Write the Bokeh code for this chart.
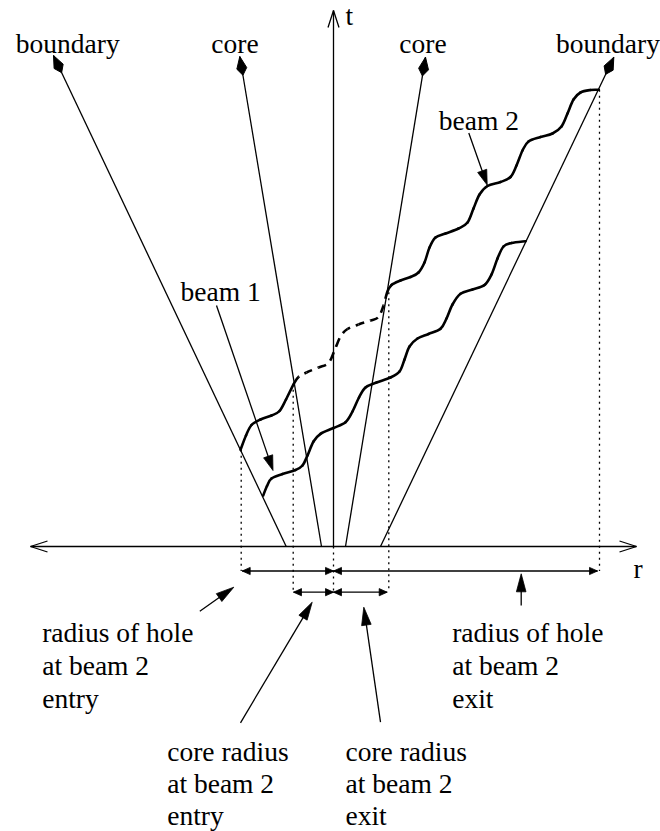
import math
from bokeh.plotting import figure
from bokeh.models import Range1d, ColumnDataSource
from bokeh.core.properties import value
from bokeh.embed import file_html
from bokeh.resources import INLINE

# ---------------- data (scene units, y grows downward) ----------------
r_axis_x = [30.0, 636.0]
r_axis_y = 546.0
t_axis_x = 333.0
t_axis_top = 10.0

worldline_names = ["boundary", "core", "core", "boundary"]
worldline_foot_x = [285.7, 321.0, 345.0, 380.0]
worldline_tip_x = [53.0, 239.3, 425.0, 613.3]
worldline_tip_y = [55.0, 56.0, 56.7, 56.7]
worldline_label_x = [67.3, 234.5, 422.5, 607.5]
worldline_label_y = [50.0, 50.0, 50.0, 50.0]

beam1_x = [262.7, 266.5, 271.0, 282.0, 295.0, 302.0, 307.0, 313.0, 320.0, 333.0,
           345.0, 352.0, 358.5, 365.0, 376.0, 390.0, 399.0, 404.0, 409.0, 417.0,
           428.0, 440.0, 446.0, 452.0, 460.0, 472.0, 484.0, 491.0, 497.0, 503.0,
           511.0, 525.0]
beam1_y = [495.0, 485.5, 478.0, 473.5, 469.5, 465.0, 455.0, 441.0, 433.3, 427.5,
           421.7, 411.0, 397.0, 387.0, 382.0, 377.0, 371.0, 359.0, 346.0, 338.0,
           333.5, 328.3, 318.0, 304.0, 293.3, 289.0, 284.5, 274.0, 258.0, 246.0,
           242.5, 240.7]

beam2_x = [240.0, 245.5, 251.0, 260.0, 271.0, 279.0, 285.5, 293.3, 298.0, 306.0,
           318.0, 328.0, 334.0, 340.0, 347.0, 358.0, 370.0, 378.0, 383.0, 386.7,
           391.0, 400.0, 410.0, 418.0, 424.0, 429.0, 435.0, 445.0, 458.0, 467.0,
           473.0, 479.0, 487.0, 500.0, 510.0, 516.0, 522.0, 528.0, 540.0, 552.0,
           561.0, 567.0, 573.0, 580.0, 590.0, 598.3]
beam2_y = [449.3, 435.0, 424.5, 419.0, 415.0, 410.5, 399.0, 383.3, 376.5, 372.0,
           367.0, 362.5, 350.0, 336.0, 328.5, 324.0, 320.0, 316.5, 305.0, 291.7,
           284.5, 280.0, 276.5, 272.0, 262.0, 247.0, 237.0, 233.0, 228.0, 222.0,
           208.0, 194.0, 185.5, 181.5, 176.5, 165.0, 150.0, 141.0, 136.5, 133.0,
           126.0, 113.0, 99.0, 92.0, 89.5, 89.3]
beam2_core_entry_idx = 7
beam2_core_exit_idx = 19

proj_x = [240.7, 292.7, 333.0, 388.3, 599.0]
proj_top = [449.3, 383.3, 546.0, 291.7, 89.3]
proj_bottom = [570.5, 591.7, 591.7, 591.7, 570.5]

dim_x0 = [241.7, 333.0, 293.0, 333.0]
dim_x1 = [333.0, 597.0, 333.0, 386.7]
dim_y = [570.5, 570.5, 591.7, 591.7]

pointer_x0 = [216.0, 468.3, 199.3, 240.0, 380.0, 520.7]
pointer_y0 = [305.0, 132.5, 610.7, 722.3, 721.7, 605.0]
pointer_x1 = [272.5, 486.7, 233.3, 311.7, 363.3, 520.7]
pointer_y1 = [470.0, 184.5, 586.7, 601.7, 606.7, 573.3]

beam_labels = ["beam 1", "beam 2"]
beam_label_x = [180.0, 438.3]
beam_label_y = [298.0, 126.7]

note_lines = ["radius of hole", "at beam 2", "entry",
              "radius of hole", "at beam 2", "exit",
              "core radius", "at beam 2", "entry",
              "core radius", "at beam 2", "exit"]
note_x = [41.7] * 3 + [451.7] * 3 + [166.7] * 3 + [345.0] * 3
note_y = [638.5, 671.5, 704.5, 638.5, 671.5, 704.5,
          758.0, 790.0, 822.0, 758.0, 790.0, 822.0]

axis_labels = ["t", "r"]
axis_label_x = [345.0, 633.0]
axis_label_y = [21.7, 575.0]

# ---------------- styles ----------------
W, H = 660, 831
FONT = value("Liberation Serif")
FS = "27.5px"
TEXT_SHIFT = -7.0   # renderer places the alphabetic baseline slightly low
THIN = 1.3
THICK = 2.6


def unit(tip, tail):
    dx, dy = tip[0] - tail[0], tip[1] - tail[1]
    d = math.hypot(dx, dy)
    return dx / d, dy / d


def tri_head(tip, tail, length, half):
    ux, uy = unit(tip, tail)
    nx, ny = -uy, ux
    bx, by = tip[0] - ux * length, tip[1] - uy * length
    return ([tip[0], bx + nx * half, bx - nx * half],
            [tip[1], by + ny * half, by - ny * half])


def diamond_head(tip, tail, length, side, half):
    ux, uy = unit(tip, tail)
    nx, ny = -uy, ux
    sx, sy = tip[0] - ux * side, tip[1] - uy * side
    return ([tip[0], sx + nx * half, tip[0] - ux * length, sx - nx * half],
            [tip[1], sy + ny * half, tip[1] - uy * length, sy - ny * half])


def open_head(tip, tail, length, half):
    ux, uy = unit(tip, tail)
    nx, ny = -uy, ux
    bx, by = tip[0] - ux * length, tip[1] - uy * length
    return ([bx + nx * half, tip[0], bx - nx * half],
            [by + ny * half, tip[1], by - ny * half])


def bezier_segments(xs, ys):
    n = len(xs)
    seg = dict(x0=[], y0=[], x1=[], y1=[], cx0=[], cy0=[], cx1=[], cy1=[])
    for i in range(n - 1):
        i0, i3 = max(i - 1, 0), min(i + 2, n - 1)
        seg["x0"].append(xs[i]); seg["y0"].append(ys[i])
        seg["x1"].append(xs[i + 1]); seg["y1"].append(ys[i + 1])
        seg["cx0"].append(xs[i] + (xs[i + 1] - xs[i0]) / 6.0)
        seg["cy0"].append(ys[i] + (ys[i + 1] - ys[i0]) / 6.0)
        seg["cx1"].append(xs[i + 1] - (xs[i3] - xs[i]) / 6.0)
        seg["cy1"].append(ys[i + 1] - (ys[i3] - ys[i]) / 6.0)
    return seg


def subset(seg, a, b):
    return {k: v[a:b] for k, v in seg.items()}


def shifted(ys):
    return [y + TEXT_SHIFT for y in ys]


p = figure(width=W, height=H, x_range=Range1d(0, W), y_range=Range1d(H, 0),
           toolbar_location=None, output_backend="svg", min_border=0,
           x_axis_location=None, y_axis_location=None)
p.grid.visible = False
p.outline_line_color = None
p.background_fill_color = "white"
p.border_fill_color = "white"

# axes of the diagram
p.line(r_axis_x, [r_axis_y, r_axis_y], line_color="black", line_width=THIN)
p.line([t_axis_x, t_axis_x], [r_axis_y, t_axis_top], line_color="black", line_width=THIN)
hx, hy = [], []
for tip, tail in [((r_axis_x[0], r_axis_y), (r_axis_x[1], r_axis_y)),
                  ((r_axis_x[1], r_axis_y), (r_axis_x[0], r_axis_y)),
                  ((t_axis_x, t_axis_top), (t_axis_x, r_axis_y))]:
    ax_, ay_ = open_head(tip, tail, 17, 5.5)
    hx.append(ax_); hy.append(ay_)
p.multi_line(hx, hy, line_color="black", line_width=THIN)

# world lines (boundary / core) with diamond heads
lx, ly, px_, py_ = [], [], [], []
for fx, tx, ty in zip(worldline_foot_x, worldline_tip_x, worldline_tip_y):
    lx.append([fx, tx]); ly.append([r_axis_y, ty])
    dx_, dy_ = diamond_head((tx, ty), (fx, r_axis_y), 19, 12, 5.0)
    px_.append(dx_); py_.append(dy_)
p.multi_line(lx, ly, line_color="black", line_width=THIN)
p.patches(px_, py_, fill_color="black", line_color="black", line_width=1)

# dotted projections
p.multi_line([[x, x] for x in proj_x], [[a, b] for a, b in zip(proj_top, proj_bottom)],
             line_color="black", line_width=THIN, line_dash="2 4")

# dimension arrows
dxs, dys, hx, hy = [], [], [], []
for x0, x1, y in zip(dim_x0, dim_x1, dim_y):
    dxs.append([x0, x1]); dys.append([y, y])
    for tip, tail in [((x0, y), (x1, y)), ((x1, y), (x0, y))]:
        a, b = tri_head(tip, tail, 8, 3.6)
        hx.append(a); hy.append(b)
p.multi_line(dxs, dys, line_color="black", line_width=THIN)
p.patches(hx, hy, fill_color="black", line_color="black", line_width=0.8)

# pointer arrows
pxs, pys, hx, hy = [], [], [], []
for x0, y0, x1, y1 in zip(pointer_x0, pointer_y0, pointer_x1, pointer_y1):
    ln = 15 if y0 < 480 else 18
    ux, uy = unit((x1, y1), (x0, y0))
    pxs.append([x0, x1 - ux * ln * 0.8]); pys.append([y0, y1 - uy * ln * 0.8])
    a, b = tri_head((x1, y1), (x0, y0), ln, 4.8)
    hx.append(a); hy.append(b)
p.multi_line(pxs, pys, line_color="black", line_width=THIN)
p.patches(hx, hy, fill_color="black", line_color="black", line_width=0.8)

# beams
b1 = bezier_segments(beam1_x, beam1_y)
p.bezier(source=ColumnDataSource(b1), x0="x0", y0="y0", x1="x1", y1="y1",
         cx0="cx0", cy0="cy0", cx1="cx1", cy1="cy1",
         line_color="black", line_width=THICK, line_cap="round")

b2 = bezier_segments(beam2_x, beam2_y)
i0, i1 = beam2_core_entry_idx, beam2_core_exit_idx
solid = {k: v[:i0] + v[i1:] for k, v in b2.items()}
p.bezier(source=ColumnDataSource(solid), x0="x0", y0="y0", x1="x1", y1="y1",
         cx0="cx0", cy0="cy0", cx1="cx1", cy1="cy1",
         line_color="black", line_width=THICK, line_cap="round")

dashed = subset(b2, i0, i1)
offsets, acc = [], 0.0
for k in range(len(dashed["x0"])):
    offsets.append(int(round(acc)) % 15)
    pts = [(dashed["x0"][k], dashed["y0"][k]), (dashed["cx0"][k], dashed["cy0"][k]),
           (dashed["cx1"][k], dashed["cy1"][k]), (dashed["x1"][k], dashed["y1"][k])]
    chord = math.dist(pts[0], pts[3])
    poly = sum(math.dist(pts[j], pts[j + 1]) for j in range(3))
    acc += (chord + poly) / 2.0
dashed["off"] = offsets
p.bezier(source=ColumnDataSource(dashed), x0="x0", y0="y0", x1="x1", y1="y1",
         cx0="cx0", cy0="cy0", cx1="cx1", cy1="cy1",
         line_color="black", line_width=THICK, line_dash="9 6", line_dash_offset="off")

# texts
p.text(worldline_label_x, shifted(worldline_label_y), text=worldline_names, text_font=FONT,
       text_font_size=FS, text_align="center", text_baseline="alphabetic", text_color="black")
p.text(beam_label_x, shifted(beam_label_y), text=beam_labels, text_font=FONT,
       text_font_size=FS, text_align="left", text_baseline="alphabetic", text_color="black")
p.text(note_x, shifted(note_y), text=note_lines, text_font=FONT,
       text_font_size=FS, text_align="left", text_baseline="alphabetic", text_color="black")
p.text(axis_label_x, shifted(axis_label_y), text=axis_labels, text_font=FONT,
       text_font_size=FS, text_align="left", text_baseline="alphabetic", text_color="black")

open("out.html", "w").write(file_html(p, INLINE))
